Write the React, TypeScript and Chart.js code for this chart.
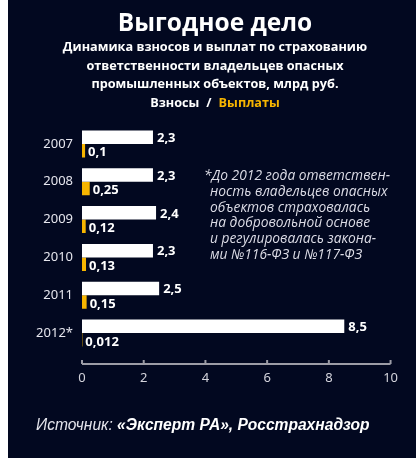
import React, { useEffect, useRef } from 'react';
import { Chart, registerables } from 'chart.js';

Chart.register(...registerables);

const years = ['2007', '2008', '2009', '2010', '2011', '2012*'];
const contributions = [2.3, 2.3, 2.4, 2.3, 2.5, 8.5];
const payouts = [0.1, 0.25, 0.12, 0.13, 0.15, 0.012];
const xMin = 0;
const xMax = 10;
const xStep = 2;

const titleText = 'Выгодное дело';
const subtitleLines = [
  'Динамика взносов и выплат по страхованию',
  'ответственности владельцев опасных',
  'промышленных объектов, млрд руб.',
];
const legendNames = ['Взносы', 'Выплаты'];
const footnoteLines = [
  '*До 2012 года ответствен-',
  'ность владельцев опасных',
  'объектов страховалась',
  'на добровольной основе',
  'и регулировалась закона-',
  'ми №116-ФЗ и №117-ФЗ',
];
const sourceLabel = 'Источник: ';
const sourceBold = '«Эксперт РА», Росстрахнадзор';

const BG = '#020820';
const YELLOW = '#f7b500';
const TEXT = '#e6e6ee';

const fmt = (v: number) => String(v).replace('.', ',');

const axisPlugin = {
  id: 'customAxis',
  afterDraw(chart: any) {
    const { ctx, chartArea } = chart;
    const xs = chart.scales.x;
    const y = chartArea.bottom + 12;
    ctx.save();
    ctx.strokeStyle = '#9c9ca6';
    ctx.lineWidth = 2;
    ctx.beginPath();
    ctx.moveTo(chartArea.left, y);
    ctx.lineTo(chartArea.right, y);
    xs.ticks.forEach((t: any) => {
      const px = xs.getPixelForValue(t.value);
      ctx.moveTo(px, y);
      ctx.lineTo(px, y - 4);
    });
    ctx.stroke();
    ctx.restore();
  },
};

const labelPlugin = {
  id: 'valueLabels',
  afterDatasetsDraw(chart: any) {
    const { ctx } = chart;
    ctx.save();
    ctx.font = 'bold 13px "Noto Sans"';
    ctx.fillStyle = '#ffffff';
    ctx.textAlign = 'left';
    ctx.textBaseline = 'middle';
    chart.data.datasets.forEach((ds: any, di: number) => {
      const meta = chart.getDatasetMeta(di);
      meta.data.forEach((el: any, i: number) => {
        const off = di === 0 ? 4 : 3;
        const dy = di === 0 ? 1 : 2;
        ctx.fillText(fmt(ds.data[i]), el.x + off, el.y + dy);
      });
    });
    ctx.restore();
  },
};

export default function App() {
  const ref = useRef<HTMLCanvasElement>(null);

  useEffect(() => {
    const chart = new Chart(ref.current as HTMLCanvasElement, {
      type: 'bar',
      data: {
        labels: years,
        datasets: [
          {
            label: legendNames[0],
            data: contributions,
            backgroundColor: '#ffffff',
            categoryPercentage: 0.714,
            barPercentage: 1,
          },
          {
            label: legendNames[1],
            data: payouts,
            backgroundColor: YELLOW,
            categoryPercentage: 0.714,
            barPercentage: 1,
          },
        ],
      },
      options: {
        indexAxis: 'y',
        responsive: false,
        maintainAspectRatio: false,
        animation: false,
        layout: { padding: { top: 125, right: 24, left: 0, bottom: 0 } },
        plugins: {
          legend: { display: false },
          tooltip: { enabled: false },
        },
        scales: {
          x: {
            min: xMin,
            max: xMax,
            ticks: {
              stepSize: xStep,
              color: '#d4d4dc',
              font: { family: 'Noto Sans', size: 13 },
              padding: 18,
              maxRotation: 0,
            },
            grid: { display: false, drawTicks: false },
            border: { display: false },
            afterFit: (s: any) => {
              s.height = 106;
            },
          },
          y: {
            ticks: {
              color: TEXT,
              font: { family: 'Noto Sans', size: 13 },
              padding: 9,
            },
            grid: { display: false, drawTicks: false },
            border: { display: false },
            afterFit: (s: any) => {
              s.width = 74;
            },
          },
        },
      } as any,
      plugins: [axisPlugin, labelPlugin],
    });
    return () => chart.destroy();
  }, []);

  const line = (top: number, h: number, extra: React.CSSProperties = {}): React.CSSProperties => ({
    position: 'absolute',
    left: 3,
    width: 408,
    top,
    height: h,
    lineHeight: h + 'px',
    textAlign: 'center',
    whiteSpace: 'nowrap',
    ...extra,
  });

  return (
    <div
      style={{
        position: 'absolute',
        left: 8,
        top: 0,
        width: 408,
        height: 458,
        background: BG,
        overflow: 'hidden',
        fontFamily: '"Open Sans", sans-serif',
        color: '#ffffff',
      }}
    >
      <canvas ref={ref} width={408} height={458} style={{ position: 'absolute', left: 0, top: 0 }} />
      <div style={line(7, 30, { fontSize: 24.5, fontWeight: 700 })}>{titleText}</div>
      {subtitleLines.map((t, i) => (
        <div key={i} style={line(37 + i * 18.5, 18, { fontSize: 12.7, fontWeight: 700 })}>
          {t}
        </div>
      ))}
      <div style={line(93, 18, { fontSize: 12.7, fontWeight: 700 })}>
        <span>{legendNames[0]}</span>
        <span style={{ margin: '0 7px' }}>/</span>
        <span style={{ color: YELLOW }}>{legendNames[1]}</span>
      </div>
      {footnoteLines.map((t, i) => (
        <div
          key={'f' + i}
          style={{
            position: 'absolute',
            left: i === 0 ? 196 : 202,
            top: 166 + i * 15.8,
            height: 17,
            lineHeight: '17px',
            fontSize: 13.8,
            fontStyle: 'italic',
            color: '#dcdce6',
            whiteSpace: 'nowrap',
          }}
        >
          {t}
        </div>
      ))}
      <div
        style={{
          position: 'absolute',
          left: 28,
          top: 415,
          height: 20,
          lineHeight: '20px',
          fontFamily: '"Liberation Sans", Arial, sans-serif',
          fontSize: 15.6,
          fontStyle: 'italic',
          color: '#e4e4ec',
          whiteSpace: 'nowrap',
        }}
      >
        {sourceLabel}
        <b style={{ color: '#ffffff' }}>{sourceBold}</b>
      </div>
    </div>
  );
}
